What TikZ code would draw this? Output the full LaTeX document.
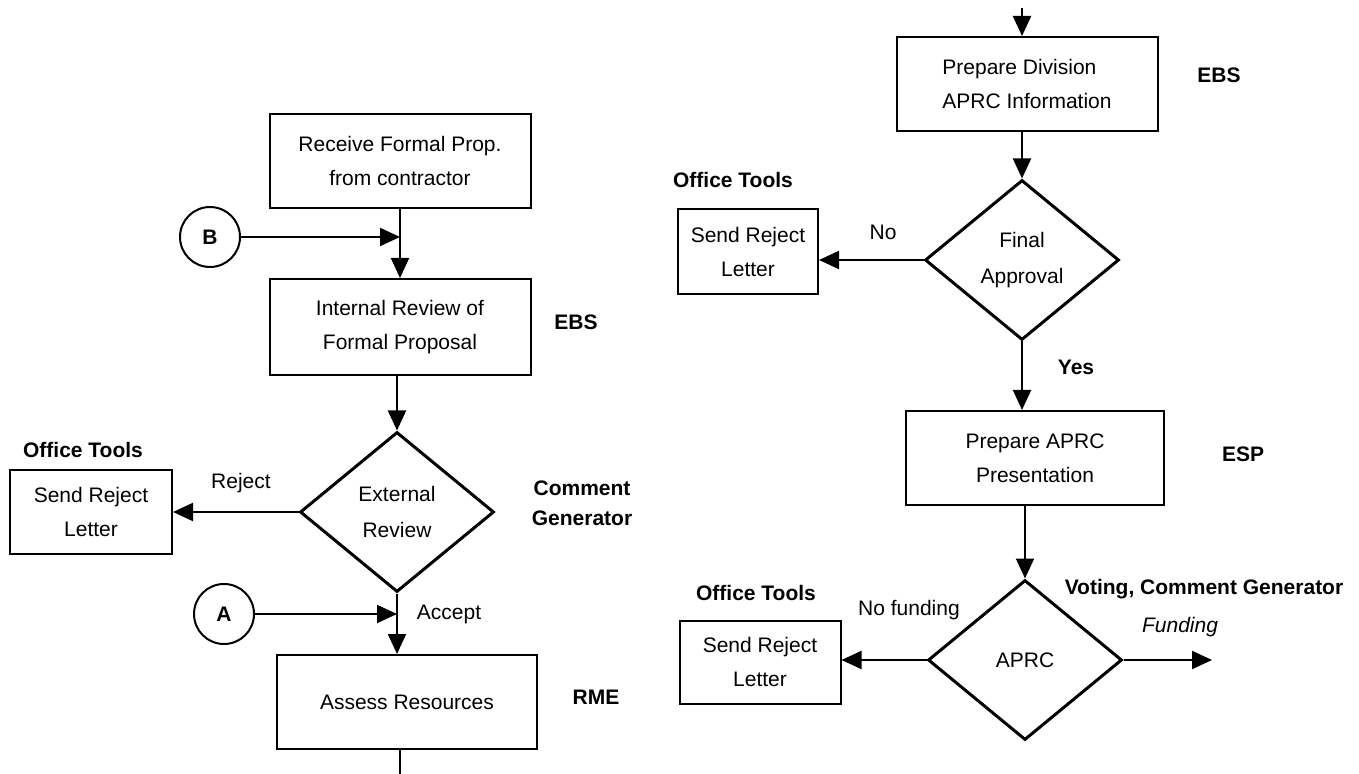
\documentclass[tikz,border=0pt]{standalone}
\usepackage{fontspec}
\setmainfont{Liberation Sans}
\usetikzlibrary{shapes.geometric, arrows.meta}

\begin{document}
\begin{tikzpicture}[x=0.5pt, y=-0.5pt,
    box/.style={draw, line width=1pt, align=center, inner sep=0pt,
        font=\fontsize{10.5}{17}\selectfont},
    dec/.style={draw, diamond, line width=1.5pt, align=center, inner sep=0pt,
        minimum width=97pt, minimum height=80pt, font=\fontsize{10.5}{18}\selectfont},
    conn/.style={draw, circle, line width=1pt, minimum size=30pt, inner sep=0pt,
        font=\bfseries\fontsize{10.5}{12}\selectfont},
    tag/.style={align=center, font=\bfseries\fontsize{10.5}{15}\selectfont},
    lbl/.style={font=\fontsize{10.5}{12}\selectfont},
    flow/.style={line width=1pt, -{Triangle[length=10pt, width=9pt]}}]
    \useasboundingbox (0,0) rectangle (1359,774);

    % left column
    \node[box, minimum width=130.5pt, minimum height=47pt] (recv) at (400,161)
        {Receive Formal Prop.\\from contractor};
    \node[conn] (B) at (210,237) {B};
    \node[box, minimum width=130.5pt, minimum height=48pt] (intrev) at (400,327)
        {Internal Review of\\Formal Proposal};
    \node[dec] (ext) at (397,512) {External\\Review};
    \node[box, minimum width=81pt, minimum height=41.5pt] (rejA) at (91,512)
        {Send Reject\\Letter};
    \node[conn] (A) at (224,614) {A};
    \node[box, minimum width=130pt, minimum height=47pt] (assess) at (407,702)
        {Assess Resources};
    \coordinate (outL) at (400,774);

    \node[tag] at (576,322) {EBS};
    \node[tag] at (83,450) {Office Tools};
    \node[tag] at (582,503) {Comment\\Generator};
    \node[tag] at (596,697) {RME};
    \node[lbl] at (241,483) {Reject};
    \node[lbl] at (449,614) {Accept};

    \draw[flow] (recv) -- (intrev);
    \draw[flow] (B) -- (B -| recv.south);
    \draw[flow] (intrev.south -| ext.north) -- (ext.north);
    \draw[flow] (ext.west) -- (ext.west -| rejA.east);
    \draw[flow] (ext.south) -- (ext.south |- assess.north);
    \draw[flow] (A) -- (A -| ext.south);
    \draw[line width=1pt] (assess.south -| outL) -- (outL);

    % right column
    \coordinate (inR) at (1022,8);
    \node[box, minimum width=130.5pt, minimum height=47pt, align=left] (prepdiv) at (1027,84)
        {Prepare Division\\APRC Information};
    \node[dec] (final) at (1022,260) {Final\\Approval};
    \node[box, minimum width=70pt, minimum height=42.5pt] (rejB) at (748,252)
        {Send Reject\\Letter};
    \node[box, minimum width=129pt, minimum height=47pt] (prepaprc) at (1035,458)
        {Prepare APRC\\Presentation};
    \node[dec] (aprc) at (1025,660) {APRC};
    \node[box, minimum width=80.5pt, minimum height=41.5pt] (rejC) at (760,662)
        {Send Reject\\Letter};
    \coordinate (fundEnd) at (1212,660);

    \node[tag] at (1219,75) {EBS};
    \node[tag] at (733,180) {Office Tools};
    \node[tag] at (1076,367) {Yes};
    \node[tag] at (1243,454) {ESP};
    \node[tag] at (756,593) {Office Tools};
    \node[tag] at (1204,589) {Voting, Comment Generator};
    \node[lbl] at (883,232) {No};
    \node[lbl] at (909,610) {No funding};
    \node[lbl, font=\itshape\fontsize{10.5}{12}\selectfont] at (1180,627) {Funding};

    \draw[flow] (inR) -- (inR |- prepdiv.north);
    \draw[flow] (prepdiv.south -| final.north) -- (final.north);
    \draw[flow] (final.west) -- (final.west -| rejB.east);
    \draw[flow] (final.south) -- (final.south |- prepaprc.north);
    \draw[flow] (prepaprc.south -| aprc.north) -- (aprc.north);
    \draw[flow] (aprc.west) -- (aprc.west -| rejC.east);
    \draw[flow] (aprc) -- (fundEnd);
\end{tikzpicture}
\end{document}
